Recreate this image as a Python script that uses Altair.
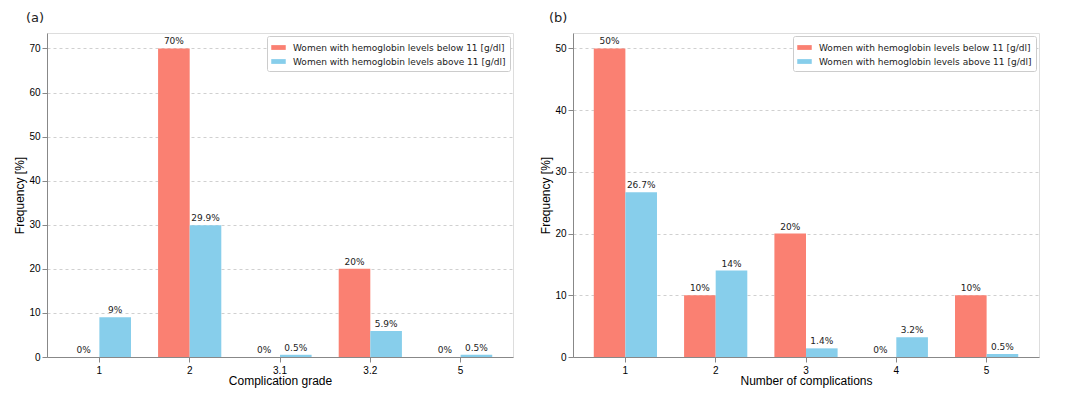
import altair as alt
import pandas as pd

FONT = "DejaVu Sans"
series_names = ["Women with hemoglobin levels below 11 [g/dl]",
                "Women with hemoglobin levels above 11 [g/dl]"]
colors = ["#FA8072", "#87CEEB"]

# Panel (a)
cats_a = ["1", "2", "3.1", "3.2", "5"]
below_a = [0, 70, 0, 20, 0]
above_a = [9, 29.9, 0.5, 5.9, 0.5]

# Panel (b)
cats_b = ["1", "2", "3", "4", "5"]
below_b = [50, 10, 20, 0, 10]
above_b = [26.7, 14, 1.4, 3.2, 0.5]


def make_df(cats, below, above):
    rows = []
    for c, b, a in zip(cats, below, above):
        rows.append({"cat": c, "series": series_names[0], "val": b, "lab": f"{b:g}%"})
        rows.append({"cat": c, "series": series_names[1], "val": a, "lab": f"{a:g}%"})
    return pd.DataFrame(rows)


def panel(cats, below, above, ymax, yticks, xtitle, title, dx):
    df = make_df(cats, below, above)
    base = alt.Chart(df).encode(
        x=alt.X("cat:N", sort=cats, title=xtitle,
                scale=alt.Scale(paddingInner=0.3, paddingOuter=0.23),
                axis=alt.Axis(labelAngle=0, grid=False, titleFontWeight=400,
                              titleFontSize=12, labelPadding=3, titlePadding=0)),
        xOffset=alt.XOffset("series:N", sort=series_names,
                            scale=alt.Scale(paddingInner=0, paddingOuter=0)),
        y=alt.Y("val:Q", title="Frequency [%]",
                scale=alt.Scale(domain=[0, ymax], nice=False),
                axis=alt.Axis(values=yticks, grid=True, gridDash=[3, 3],
                              gridColor="#d0d0d0", titleFontWeight=400,
                              titleFontSize=12, labelPadding=2, titlePadding=2)),
    )
    bars = base.mark_bar().encode(
        color=alt.Color("series:N", sort=series_names,
                        scale=alt.Scale(domain=series_names, range=colors),
                        legend=alt.Legend(title=None, orient="top-right",
                                          offset=3, padding=4,
                                          fillColor="white", strokeColor="#cccccc",
                                          cornerRadius=2, labelFontSize=9,
                                          labelLimit=400, rowPadding=1,
                                          labelOffset=7,
                                          symbolType="M-1,-0.33L1,-0.33L1,0.33L-1,0.33Z",
                                          symbolSize=210, symbolStrokeWidth=0,
                                          labelFont=FONT, labelColor="#222")),
    )
    text = base.mark_text(baseline="bottom", dy=-2, fontSize=9, font=FONT,
                          color="#222").encode(text="lab:N")
    return alt.layer(bars, text).properties(
        width=466, height=324,
        title=alt.TitleParams(title, anchor="start", frame="bounds", dx=dx,
                              fontSize=13, fontWeight="normal", font=FONT,
                              offset=8, color="#222"),
    )


pa = panel(cats_a, below_a, above_a, 73.5, [0, 10, 20, 30, 40, 50, 60, 70],
           "Complication grade", "(a)", 12)
pb = panel(cats_b, below_b, above_b, 52.5, [0, 10, 20, 30, 40, 50],
           "Number of complications", "(b)", 9)

chart = alt.hconcat(pa, pb, spacing=25).resolve_scale(
    x="independent", y="independent", color="independent", xOffset="independent"
).resolve_legend(color="independent").configure_view(
    stroke="#333333", strokeWidth=1
).configure_axis(
    labelFont=FONT, titleFont=FONT, labelFontSize=9.5, titleFontSize=12,
    titleFontWeight="normal", labelColor="#222", titleColor="#222",
    domain=False, tickColor="#333", tickSize=4,
).configure(padding={"left": 5, "top": 3, "right": 5, "bottom": 5})

chart.save("out.html", embed_options={"renderer": "svg", "actions": False})
